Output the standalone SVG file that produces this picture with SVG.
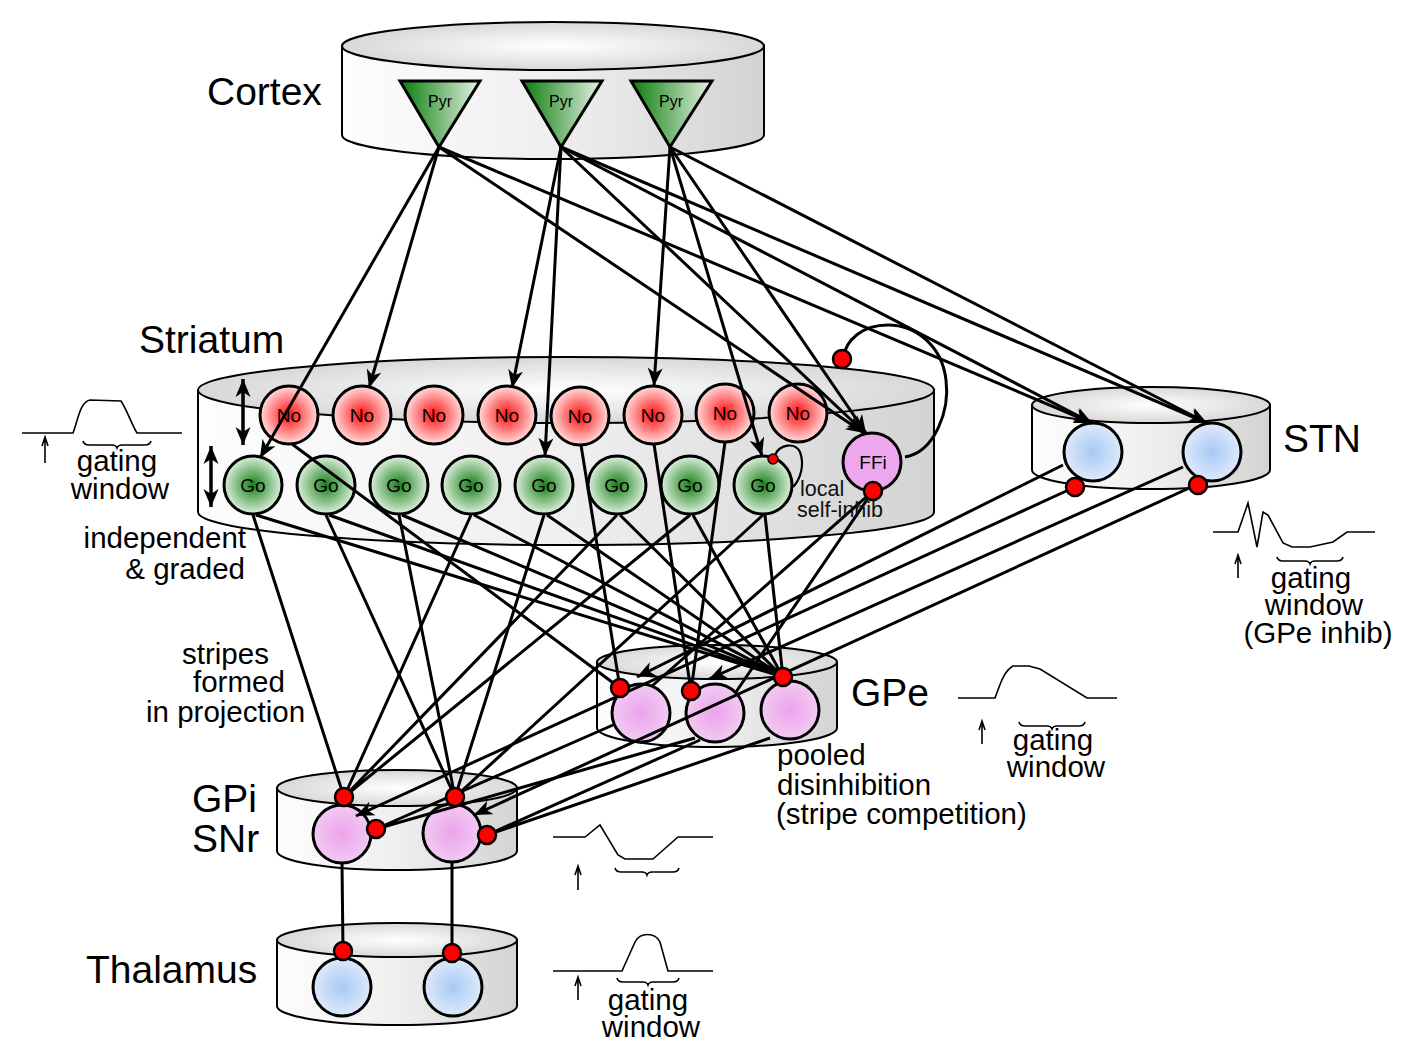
<svg xmlns="http://www.w3.org/2000/svg" width="1410" height="1061" viewBox="0 0 1410 1061">
<defs>
<linearGradient id="cylBody" x1="0" y1="0" x2="1" y2="0">
<stop offset="0" stop-color="#fdfdfd"/><stop offset="0.5" stop-color="#efefef"/><stop offset="1" stop-color="#d3d3d3"/>
</linearGradient>
<radialGradient id="cylTop" cx="0.5" cy="0.5" r="0.5">
<stop offset="0" stop-color="#ffffff"/><stop offset="1" stop-color="#d8d8d8"/>
</radialGradient>
<linearGradient id="pyrG" x1="0" y1="0" x2="1" y2="0">
<stop offset="0" stop-color="#0a7d0a"/><stop offset="1" stop-color="#e6f2e6"/>
</linearGradient>
<radialGradient id="gNo"><stop offset="0" stop-color="#ff1010"/><stop offset="1" stop-color="#ffdcdc"/></radialGradient>
<radialGradient id="gGo"><stop offset="0" stop-color="#177f17"/><stop offset="1" stop-color="#dcefdc"/></radialGradient>
<radialGradient id="gPink"><stop offset="0" stop-color="#eba3eb"/><stop offset="1" stop-color="#f2caf2"/></radialGradient>
<radialGradient id="gBlue"><stop offset="0" stop-color="#a9c9f3"/><stop offset="1" stop-color="#dde9fb"/></radialGradient>
<marker id="arr" viewBox="-20 -9 22 18" markerWidth="22" markerHeight="18" refX="0" refY="0" orient="auto" markerUnits="userSpaceOnUse">
<path d="M0,0 L-18,-7.5 L-13,0 L-18,7.5 Z" fill="#000"/>
</marker>
<marker id="arr2" viewBox="-20 -9 22 18" markerWidth="22" markerHeight="18" refX="0" refY="0" orient="auto-start-reverse" markerUnits="userSpaceOnUse">
<path d="M0,0 L-18,-7.5 L-13,0 L-18,7.5 Z" fill="#000"/>
</marker>
</defs>
<style>
.body{fill:url(#cylBody);stroke:#000;stroke-width:2}
.top{fill:url(#cylTop);stroke:#000;stroke-width:2}
.pyr{fill:url(#pyrG);stroke:#000;stroke-width:3;stroke-linejoin:miter}
.no{fill:url(#gNo);stroke:#000;stroke-width:3}
.go{fill:url(#gGo);stroke:#000;stroke-width:3}
.pk{fill:url(#gPink);stroke:#000;stroke-width:3}
.bl{fill:url(#gBlue);stroke:#000;stroke-width:3}
.ffi{fill:#eda8ed;stroke:#000;stroke-width:3}
.c{stroke:#000;stroke-width:3;fill:none}
.a{stroke:#000;stroke-width:3;fill:none;marker-end:url(#arr)}
.dot{fill:#f00;stroke:#000;stroke-width:2.5}
.wave{stroke:#000;stroke-width:1.6;fill:none}
.big{font-family:"Liberation Sans",Arial,sans-serif;font-size:39px;fill:#000}
.sm{font-family:"Liberation Sans",Arial,sans-serif;font-size:29.5px;fill:#000}
.lab{font-family:"Liberation Sans",Arial,sans-serif;font-size:19px;fill:#000;text-anchor:middle}
.pyrt{font-family:"Liberation Sans",Arial,sans-serif;font-size:16px;fill:#000;text-anchor:middle}
.loc{font-family:"Liberation Sans",Arial,sans-serif;font-size:21.5px;fill:#111}
</style>
<rect width="1410" height="1061" fill="#fff"/>

<g id="cortex">
<path class="body" d="M342,46 L342,135 A211,24 0 0 0 764,135 L764,46 Z"/>
<ellipse class="top" cx="553" cy="46" rx="211" ry="24"/>
<text class="big" x="207" y="105">Cortex</text>
</g>
<g id="striatum">
<path class="body" d="M198,390 L198,512 A368,33 0 0 0 934,512 L934,390 Z"/>
<ellipse class="top" cx="566" cy="390" rx="368" ry="33"/>
<text class="big" x="139" y="353">Striatum</text>
</g>
<g id="stn">
<path class="body" d="M1032,405 L1032,470 A119,19 0 0 0 1270,470 L1270,405 Z"/>
<ellipse class="top" cx="1151" cy="405" rx="119" ry="18"/>
<text class="big" x="1283" y="452">STN</text>
</g>
<g id="gpe">
<path class="body" d="M597,662 L597,728 A120,19 0 0 0 837,728 L837,662 Z"/>
<ellipse class="top" cx="717" cy="662" rx="120" ry="17"/>
<text class="big" x="851" y="706">GPe</text>
</g>
<g id="gpi">
<path class="body" d="M277,788 L277,851 A120,19 0 0 0 517,851 L517,788 Z"/>
<ellipse class="top" cx="397" cy="788" rx="120" ry="18"/>
<text class="big" x="192" y="812">GPi</text>
<text class="big" x="192" y="852">SNr</text>
</g>
<g id="thalamus">
<path class="body" d="M277,940 L277,1006 A120,19 0 0 0 517,1006 L517,940 Z"/>
<ellipse class="top" cx="397" cy="940" rx="120" ry="17"/>
<text class="big" x="86" y="983">Thalamus</text>
</g>

<g id="pyr1"><polygon class="pyr" points="400,81 480,81 439,147"/><text class="pyrt" x="440" y="107">Pyr</text></g>
<g id="pyr2"><polygon class="pyr" points="522,81 602,81 561,147"/><text class="pyrt" x="561" y="107">Pyr</text></g>
<g id="pyr3"><polygon class="pyr" points="631,81 712,81 670,147"/><text class="pyrt" x="671" y="107">Pyr</text></g>

<g id="nogo">
<circle class="no" cx="289" cy="415" r="29"/><text class="lab" x="289" y="422">No</text>
<circle class="no" cx="362" cy="415" r="29"/><text class="lab" x="362" y="422">No</text>
<circle class="no" cx="434" cy="415" r="29"/><text class="lab" x="434" y="422">No</text>
<circle class="no" cx="507" cy="415" r="29"/><text class="lab" x="507" y="422">No</text>
<circle class="no" cx="580" cy="416" r="29"/><text class="lab" x="580" y="423">No</text>
<circle class="no" cx="653" cy="415" r="29"/><text class="lab" x="653" y="422">No</text>
<circle class="no" cx="725" cy="413" r="29"/><text class="lab" x="725" y="420">No</text>
<circle class="no" cx="798" cy="413" r="29"/><text class="lab" x="798" y="420">No</text>
</g>
<g id="go">
<circle class="go" cx="253" cy="485" r="29"/><text class="lab" x="253" y="492">Go</text>
<circle class="go" cx="326" cy="485" r="29"/><text class="lab" x="326" y="492">Go</text>
<circle class="go" cx="399" cy="485" r="29"/><text class="lab" x="399" y="492">Go</text>
<circle class="go" cx="471" cy="485" r="29"/><text class="lab" x="471" y="492">Go</text>
<circle class="go" cx="544" cy="485" r="29"/><text class="lab" x="544" y="492">Go</text>
<circle class="go" cx="617" cy="485" r="29"/><text class="lab" x="617" y="492">Go</text>
<circle class="go" cx="690" cy="485" r="29"/><text class="lab" x="690" y="492">Go</text>
<circle class="go" cx="763" cy="485" r="29"/><text class="lab" x="763" y="492">Go</text>
</g>
<g id="ffi"><circle class="ffi" cx="872" cy="462" r="29"/><text class="lab" x="873" y="469">FFi</text></g>
<g id="stn-cells">
<circle class="bl" cx="1093" cy="452" r="29"/>
<circle class="bl" cx="1212" cy="452" r="29"/>
</g>
<g id="gpe-cells">
<circle class="pk" cx="641" cy="713" r="29"/>
<circle class="pk" cx="715" cy="713" r="29"/>
<circle class="pk" cx="790" cy="710" r="29"/>
</g>
<g id="gpi-cells">
<circle class="pk" cx="342" cy="834" r="29"/>
<circle class="pk" cx="452" cy="833" r="29"/>
</g>
<g id="thal-cells">
<circle class="bl" cx="342" cy="987" r="29"/>
<circle class="bl" cx="453" cy="987" r="29"/>
</g>

<g id="connectors">
<path class="a" d="M439,147 L260,458"/>
<path class="a" d="M439,147 L369,388"/>
<path class="a" d="M439,147 L864,433"/>
<path class="a" d="M439,147 L1092,423"/>
<path class="a" d="M561,147 L512,388"/>
<path class="a" d="M561,147 L545,456"/>
<path class="a" d="M561,147 L865,433"/>
<path class="a" d="M561,147 L1092,423"/>
<path class="a" d="M561,147 L1207,423"/>
<path class="a" d="M670,147 L654,386"/>
<path class="a" d="M670,147 L762,456"/>
<path class="a" d="M670,147 L866,433"/>
<path class="a" d="M670,147 L1207,423"/>

<path class="c" d="M253,515 L344,797 M471,515 L344,797 M617,515 L344,797 M690,515 L344,797"/>
<path class="c" d="M326,515 L455,797 M399,515 L455,797 M544,515 L455,797 M763,515 L455,797"/>
<path class="c" d="M256,515 L783,677 M329,515 L783,677 M402,515 L783,677 M474,515 L783,677 M547,515 L783,677 M620,515 L783,677 M693,515 L783,677 M765,515 L783,677"/>
<path class="c" d="M292,444 L620,688 M581,445 L620,688 M654,444 L691,691 M725,442 L691,691"/>
<path class="c" d="M873,491 L652,686 M873,491 L736,692"/>
<path class="a" d="M1063,465 L637,677"/>
<path class="a" d="M1183,467 L709,679"/>
<path class="a" d="M1075,487 L356,816"/>
<path class="a" d="M1198,484 L474,815"/>
<path class="c" d="M613,725 L376,829 M695,738 L376,829 M700,740 L487,835 M770,738 L487,835"/>
<path class="c" d="M342,863 L343,951 M452,862 L452,953"/>
<path class="c" d="M905,457 C935,452 950,410 946,380 C942,345 915,325 888,325 C862,325 846,340 843,358"/>
<path class="c" style="stroke-width:2.2" d="M775,455 C780,444 795,442 800,452 C805,465 800,480 793,487"/>
<path class="c" style="marker-start:url(#arr2);marker-end:url(#arr2);stroke-width:3.5" d="M243,379 L243,445"/>
<path class="c" style="marker-start:url(#arr2);marker-end:url(#arr2);stroke-width:3.5" d="M211,446 L211,507"/>
<circle class="dot" cx="1075" cy="487" r="9"/>
<circle class="dot" cx="1198" cy="485" r="9"/>
<circle class="dot" cx="873" cy="491" r="9"/>
<circle class="dot" cx="842" cy="359" r="9"/>
<circle class="dot" cx="620" cy="688" r="9"/>
<circle class="dot" cx="691" cy="691" r="9"/>
<circle class="dot" cx="783" cy="677" r="9"/>
<circle class="dot" cx="344" cy="797" r="9"/>
<circle class="dot" cx="455" cy="797" r="9"/>
<circle class="dot" cx="376" cy="829" r="9"/>
<circle class="dot" cx="487" cy="835" r="9"/>
<circle class="dot" cx="343" cy="951" r="9"/>
<circle class="dot" cx="452" cy="953" r="9"/>
<circle class="dot" cx="773" cy="459" r="5" style="stroke-width:1.5"/>
</g>

<g id="labels">
<text class="loc" x="800" y="496">local</text>
<text class="loc" x="797" y="517">self-inhib</text>
<text class="sm" x="246" y="548" text-anchor="end">independent</text>
<text class="sm" x="245" y="579" text-anchor="end">&amp; graded</text>
<text class="sm" x="182" y="664">stripes</text>
<text class="sm" x="193" y="692">formed</text>
<text class="sm" x="146" y="722">in projection</text>
<text class="sm" x="777" y="765">pooled</text>
<text class="sm" x="777" y="795">disinhibition</text>
<text class="sm" x="776" y="824">(stripe competition)</text>
</g>

<g id="wave-striatum">
<path class="wave" d="M22,433 L73,433 C78,420 80,402 90,400 L121,401 C127,410 132,425 137,433 L182,433"/>
<path class="wave" d="M45,463 L45,440 M42,446 L45,437 L48,446"/>
<path class="wave" d="M83,441 q1,4 6,4 h23 q4,0 5,3 q1,-3 5,-3 h23 q5,0 6,-4"/>
<text class="sm" x="117" y="471" text-anchor="middle">gating</text>
<text class="sm" x="120" y="499" text-anchor="middle">window</text>
</g>
<g id="wave-stn">
<path class="wave" d="M1213,532 L1238,532 L1248,503 L1257,547 L1263,512 L1268,515 L1283,543 L1292,547 L1310,547 L1333,542 L1347,532 L1375,532"/>
<path class="wave" d="M1238,578 L1238,558 M1235,564 L1238,555 L1241,564"/>
<path class="wave" d="M1277,557 q1,4 6,4 h22 q4,0 5,3 q1,-3 5,-3 h22 q5,0 6,-4"/>
<text class="sm" x="1311" y="588" text-anchor="middle">gating</text>
<text class="sm" x="1314" y="615" text-anchor="middle">window</text>
<text class="sm" x="1318" y="643" text-anchor="middle">(GPe inhib)</text>
</g>
<g id="wave-gpe">
<path class="wave" d="M958,698 L995,698 C1000,685 1003,672 1013,666 L1029,666 L1040,669 L1087,698 L1117,698"/>
<path class="wave" d="M982,744 L982,724 M979,730 L982,721 L985,730"/>
<path class="wave" d="M1019,722 q1,4 6,4 h22 q4,0 5,3 q1,-3 5,-3 h22 q5,0 6,-4"/>
<text class="sm" x="1053" y="750" text-anchor="middle">gating</text>
<text class="sm" x="1056" y="777" text-anchor="middle">window</text>
</g>
<g id="wave-gpi">
<path class="wave" d="M553,837 L585,837 L600,825 L618,855 L625,859 L653,859 L678,837 L713,837"/>
<path class="wave" d="M578,890 L578,869 M575,875 L578,866 L581,875"/>
<path class="wave" d="M615,868 q1,4 6,4 h21 q4,0 5,3 q1,-3 5,-3 h21 q5,0 6,-4"/>
</g>
<g id="wave-thal">
<path class="wave" d="M553,971 L622,971 L635,942 C640,932 655,932 660,942 L668,971 L713,971"/>
<path class="wave" d="M578,1000 L578,980 M575,986 L578,977 L581,986"/>
<path class="wave" d="M617,978 q1,4 6,4 h20 q4,0 5,3 q1,-3 5,-3 h20 q5,0 6,-4"/>
<text class="sm" x="648" y="1010" text-anchor="middle">gating</text>
<text class="sm" x="651" y="1037" text-anchor="middle">window</text>
</g>
</svg>
